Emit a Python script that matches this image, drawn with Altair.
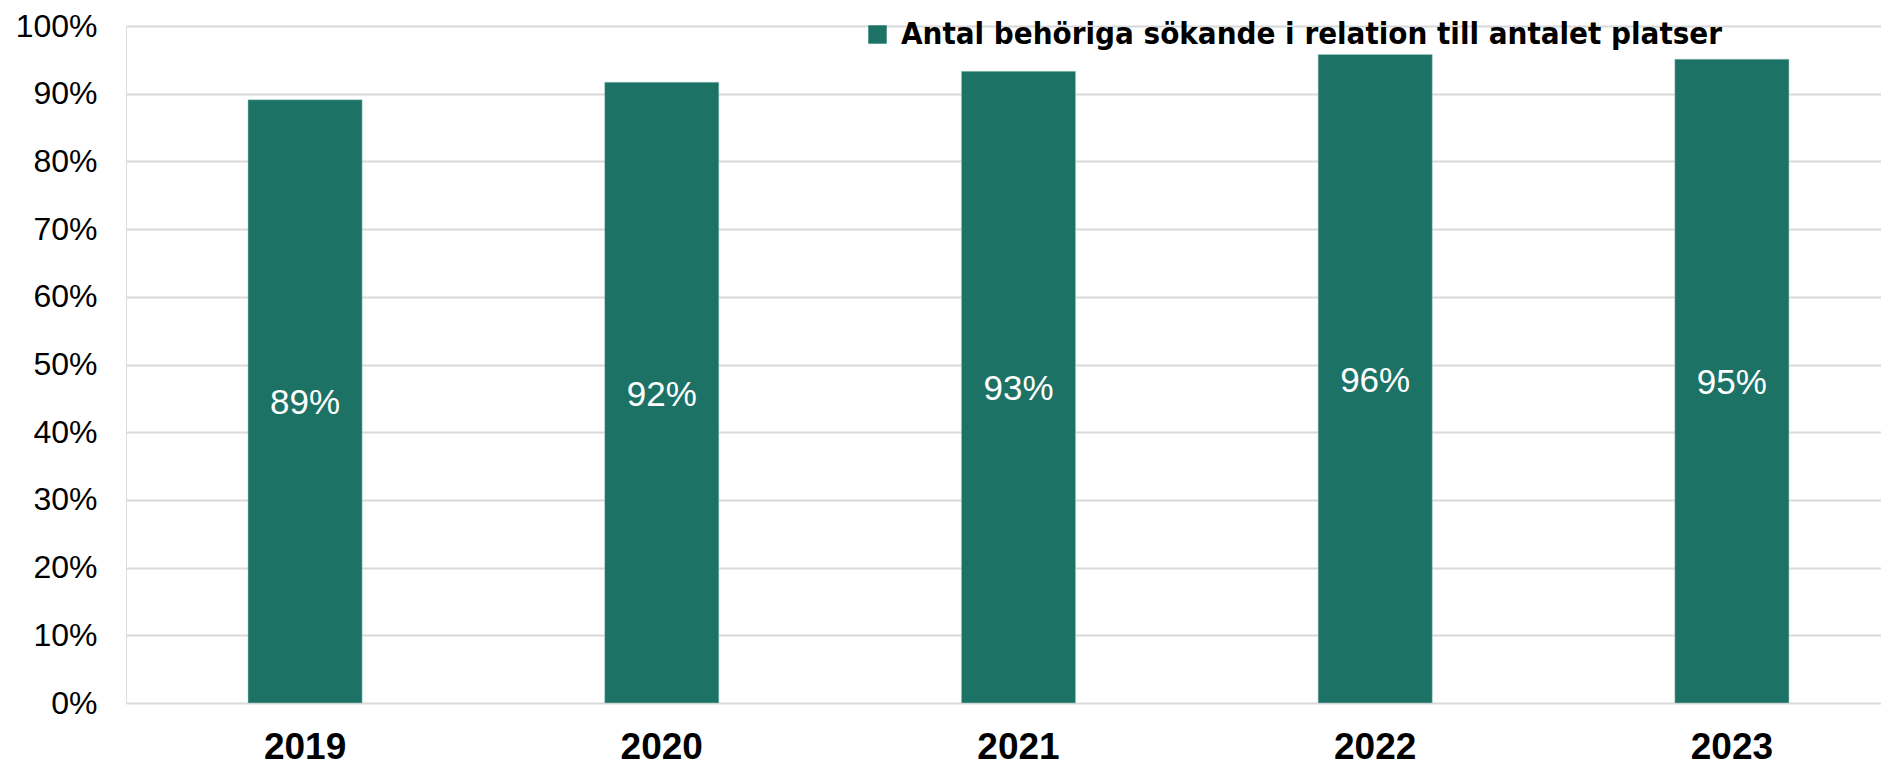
import altair as alt
import pandas as pd

years = ["2019", "2020", "2021", "2022", "2023"]
values = [0.891, 0.917, 0.933, 0.958, 0.951]
series = "Antal behöriga sökande i relation till antalet platser"

df = pd.DataFrame({"year": years, "value": values, "series": [series] * len(years)})

BAR = "#1c7265"

base = alt.Chart(df)

bars = base.mark_bar(color=BAR, stroke="#a9cfc8", strokeWidth=0.5).encode(
    x=alt.X("year:N", sort=years,
            scale=alt.Scale(paddingInner=0.68, paddingOuter=0.3, align=0.57),
            axis=alt.Axis(title=None, labelAngle=0, labelFont="Liberation Sans",
                          labelFontWeight="bold", labelFontSize=37, labelColor="#000000",
                          domain=False, ticks=False, labelPadding=26, grid=False)),
    y=alt.Y("value:Q", scale=alt.Scale(domain=[0, 1], nice=False),
            axis=alt.Axis(title=None, format=".0%", values=[i / 10 for i in range(11)],
                          labelFont="Liberation Sans", labelFontSize=32, labelColor="#000000",
                          domain=False, ticks=False, labelPadding=29,
                          gridColor="#d9d9d9", gridWidth=2)),
    color=alt.Color("series:N", scale=alt.Scale(range=[BAR]),
                    legend=alt.Legend(title=None, orient="none", legendX=736, legendY=-7,
                                      symbolType="square", symbolSize=340, symbolStrokeWidth=0,
                                      labelFont="DejaVu Sans Condensed, Roboto, sans-serif",
                                      labelFontSize=31,
                                      labelFontWeight="bold",
                                      labelColor="#000000", labelLimit=0, labelOffset=8)),
)

labels = base.transform_calculate(mid="datum.value / 2").mark_text(
    color="white", font="Liberation Sans", fontSize=35, baseline="middle", dy=2
).encode(
    x=alt.X("year:N", sort=years),
    y=alt.Y("mid:Q"),
    text=alt.Text("value:Q", format=".0%"),
)

chart = (bars + labels).properties(
    width=1755, height=677,
    autosize=alt.AutoSizeParams(type="none"),
    padding={"left": 118, "top": 18, "right": 0, "bottom": 72},
).configure_view(stroke=None).configure(background="white")

chart.save("out.html", embed_options={"renderer": "svg", "actions": False})
